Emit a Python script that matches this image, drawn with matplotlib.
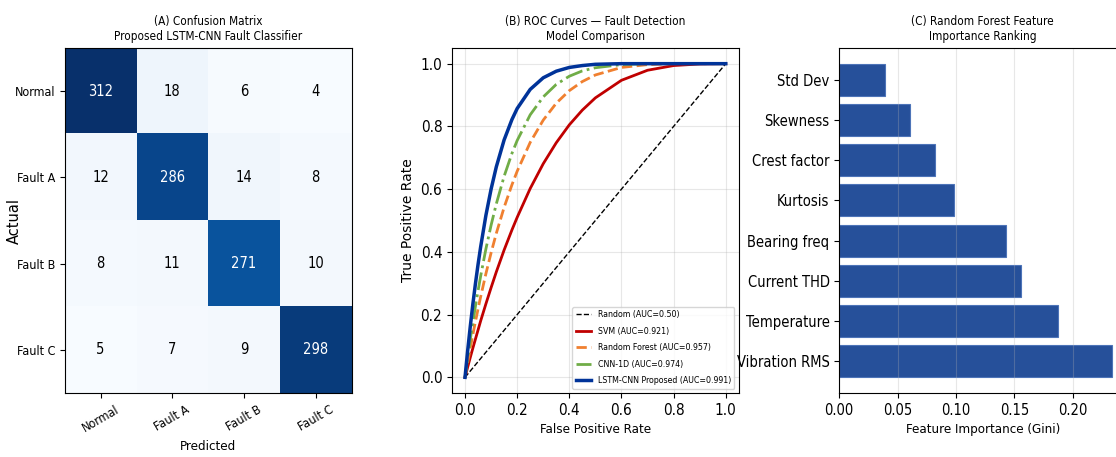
import numpy as np
import matplotlib
matplotlib.use('Agg')
import matplotlib.pyplot as plt
from matplotlib import font_manager

# look for a condensed face to mimic the squeezed text of the reference
condensed = [f for f in font_manager.fontManager.ttflist
             if 'Condensed' in f.fname or 'Narrow' in f.fname]
if condensed:
    plt.rcParams['font.family'] = [condensed[0].name, 'DejaVu Sans']
    plt.rcParams['font.stretch'] = 'condensed'
else:
    plt.rcParams['font.family'] = ['DejaVu Sans']

classes = ['Normal', 'Fault A', 'Fault B', 'Fault C']
confusion = np.array([
    [312, 18, 6, 4],
    [12, 286, 14, 8],
    [8, 11, 271, 10],
    [5, 7, 9, 298],
])

fpr = [0, 0.01, 0.02, 0.03, 0.04, 0.05, 0.06, 0.08, 0.1, 0.12, 0.15, 0.18, 0.2,
       0.25, 0.3, 0.35, 0.4, 0.45, 0.5, 0.6, 0.7, 0.8, 0.9, 1.0]
tprSvm = [0, 0.032, 0.063, 0.093, 0.122, 0.151, 0.180, 0.234, 0.286, 0.336, 0.406, 0.470, 0.510,
          0.602, 0.681, 0.748, 0.805, 0.852, 0.891, 0.947, 0.979, 0.994, 0.999, 1.0]
tprRf = [0, 0.047, 0.092, 0.136, 0.178, 0.218, 0.257, 0.330, 0.397, 0.459, 0.542, 0.614, 0.657,
         0.749, 0.820, 0.874, 0.914, 0.943, 0.964, 0.988, 0.997, 1.0, 1.0, 1.0]
tprCnn = [0, 0.061, 0.120, 0.175, 0.227, 0.276, 0.323, 0.409, 0.485, 0.553, 0.641, 0.714, 0.755,
          0.837, 0.894, 0.934, 0.960, 0.977, 0.987, 0.997, 1.0, 1.0, 1.0, 1.0]
tprLstm = [0, 0.084, 0.161, 0.233, 0.299, 0.360, 0.416, 0.516, 0.600, 0.671, 0.757, 0.822, 0.857,
           0.918, 0.955, 0.976, 0.988, 0.994, 0.998, 1.0, 1.0, 1.0, 1.0, 1.0]

features = ['Vibration RMS', 'Temperature', 'Current THD', 'Bearing freq',
            'Kurtosis', 'Crest factor', 'Skewness', 'Std Dev']
importance = [0.234, 0.187, 0.156, 0.143, 0.098, 0.082, 0.061, 0.039]

fig = plt.figure(figsize=(11.16, 4.57), dpi=100)
axA = fig.add_axes([0.058, 0.140, 0.257, 0.755])
axB = fig.add_axes([0.405, 0.140, 0.257, 0.755])
axC = fig.add_axes([0.752, 0.140, 0.257, 0.755])

# (A) confusion matrix
axA.imshow(confusion, cmap='Blues', aspect='auto')
thresh = confusion.max() / 2
for i in range(len(classes)):
    for j in range(len(classes)):
        val = confusion[i, j]
        axA.text(j, i, str(val), ha='center', va='center', fontsize=10.5,
                 color='white' if val > thresh else 'black')
axA.set_xticks(range(len(classes)))
axA.set_yticks(range(len(classes)))
axA.set_xticklabels(classes, rotation=30, fontsize=9)
axA.set_yticklabels(classes, fontsize=9)
axA.set_xlabel('Predicted', fontsize=9.5)
axA.set_ylabel('Actual', fontsize=10.5, family='DejaVu Sans', stretch='normal')
axA.yaxis.set_label_coords(-0.15, 0.5)
axA.set_title('(A) Confusion Matrix\nProposed LSTM-CNN Fault Classifier', fontsize=8.5)

# (B) ROC curves
axB.plot([0, 1], [0, 1], 'k--', lw=1, label='Random (AUC=0.50)')
axB.plot(fpr, tprSvm, color='#c00000', lw=2, label='SVM (AUC=0.921)')
axB.plot(fpr, tprRf, color='#f08030', lw=2, ls='--', label='Random Forest (AUC=0.957)')
axB.plot(fpr, tprCnn, color='#70ad47', lw=2, ls='-.', label='CNN-1D (AUC=0.974)')
axB.plot(fpr, tprLstm, color='#003399', lw=2.5, label='LSTM-CNN Proposed (AUC=0.991)')
axB.set_xlim(-0.05, 1.05)
axB.set_ylim(-0.05, 1.05)
axB.grid(True, alpha=0.3)
axB.tick_params(labelsize=11)
axB.set_xlabel('False Positive Rate', fontsize=9.5)
axB.set_ylabel('True Positive Rate', fontsize=10, family='DejaVu Sans', stretch='normal')
axB.set_title('(B) ROC Curves — Fault Detection\nModel Comparison', fontsize=8.5)
axB.legend(loc='lower right', fontsize=6.3, labelspacing=0.85, handlelength=1.7)

# (C) feature importance
axC.barh(features, importance, color='#26509a', edgecolor='#4d74b8', linewidth=0.8)
axC.set_xlim(0, max(importance) * 1.05)
axC.grid(True, axis='x', alpha=0.3)
axC.tick_params(labelsize=10.5)
axC.set_xlabel('Feature Importance (Gini)', fontsize=9.5)
axC.set_title('(C) Random Forest Feature\nImportance Ranking', fontsize=8.5)

fig.savefig('out.png', dpi=100)
